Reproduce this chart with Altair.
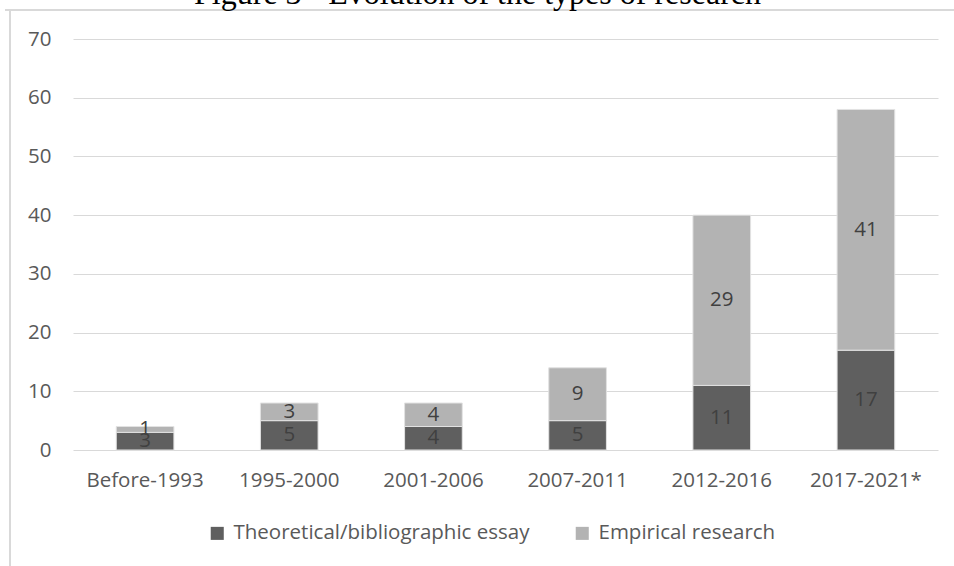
import altair as alt
import pandas as pd

periods = ["Before-1993", "1995-2000", "2001-2006", "2007-2011", "2012-2016", "2017-2021*"]
series = ["Theoretical/bibliographic essay", "Empirical research"]
theoretical = [3, 5, 4, 5, 11, 17]
empirical = [1, 3, 4, 9, 29, 41]
colors = ["#5f5f5f", "#b3b3b3"]
y_ticks = [0, 10, 20, 30, 40, 50, 60, 70]

rows = []
for i, p in enumerate(periods):
    rows.append({"period": p, "series": series[0], "ord": 0, "value": theoretical[i]})
    rows.append({"period": p, "series": series[1], "ord": 1, "value": empirical[i]})
df = pd.DataFrame(rows)

FONT = "Open Sans"
FS = 20.5
LABEL_COLOR = "#595959"

base = alt.Chart(df).transform_stack(
    stack="value", as_=["v0", "v1"], groupby=["period"], sort=[alt.SortField("ord", order="ascending")]
).transform_calculate(mid="(datum.v0 + datum.v1) / 2")

x_enc = alt.X(
    "period:N",
    sort=periods,
    title=None,
    scale=alt.Scale(paddingInner=0.6, paddingOuter=0.3),
    axis=alt.Axis(labelAngle=0, labelFont=FONT, labelFontSize=FS, labelColor=LABEL_COLOR,
                  ticks=False, domain=False, labelPadding=20, grid=False),
)

bars = base.mark_bar(stroke="#e2e2e2", strokeWidth=1).encode(
    x=x_enc,
    y=alt.Y("v0:Q", title=None,
            scale=alt.Scale(domain=[0, 70], nice=False),
            axis=alt.Axis(values=y_ticks, labelFont=FONT, labelFontSize=FS, labelColor=LABEL_COLOR,
                          ticks=False, domain=False, labelPadding=22, grid=True,
                          gridColor="#d9d9d9", gridWidth=1.2)),
    y2="v1:Q",
    color=alt.Color("series:N", sort=series,
                    scale=alt.Scale(domain=series, range=colors),
                    legend=alt.Legend(title=None, orient="none", direction="horizontal",
                                      legendX=134, legendY=484, padding=0, labelLimit=0,
                                      symbolType="square", symbolSize=170, symbolStrokeWidth=0,
                                      labelFont=FONT, labelFontSize=FS, labelColor=LABEL_COLOR,
                                      labelOffset=6, columnPadding=42)),
)

texts = base.mark_text(font=FONT, fontSize=FS, color="#404040", baseline="middle").encode(
    x=alt.X("period:N", sort=periods),
    y=alt.Y("mid:Q"),
    text=alt.Text("value:Q"),
)

frame_df = pd.DataFrame({"k": [0]})
frame_left = alt.Chart(frame_df).mark_rule(color="#d9d9d9", strokeWidth=2).encode(
    x=alt.value(-63), y=alt.value(-29), y2=alt.value(700)
)
frame_top = alt.Chart(frame_df).mark_rule(color="#d9d9d9", strokeWidth=2).encode(
    x=alt.value(-68), x2=alt.value(1000), y=alt.value(-29)
)

chart = alt.layer(bars, texts, frame_left, frame_top).properties(
    width=865,
    height=411,
    padding={"left": 73, "top": 39, "right": 16, "bottom": 116},
    autosize=alt.AutoSizeParams(type="none"),
    title=alt.TitleParams("Figure 3 - Evolution of the types of research", font="Liberation Serif",
                          fontSize=32, fontWeight="normal", color="#000000", anchor="middle",
                          dx=-28, offset=-2),
).configure_view(stroke=None)

chart.save("out.html", embed_options={"renderer": "svg", "actions": False})
